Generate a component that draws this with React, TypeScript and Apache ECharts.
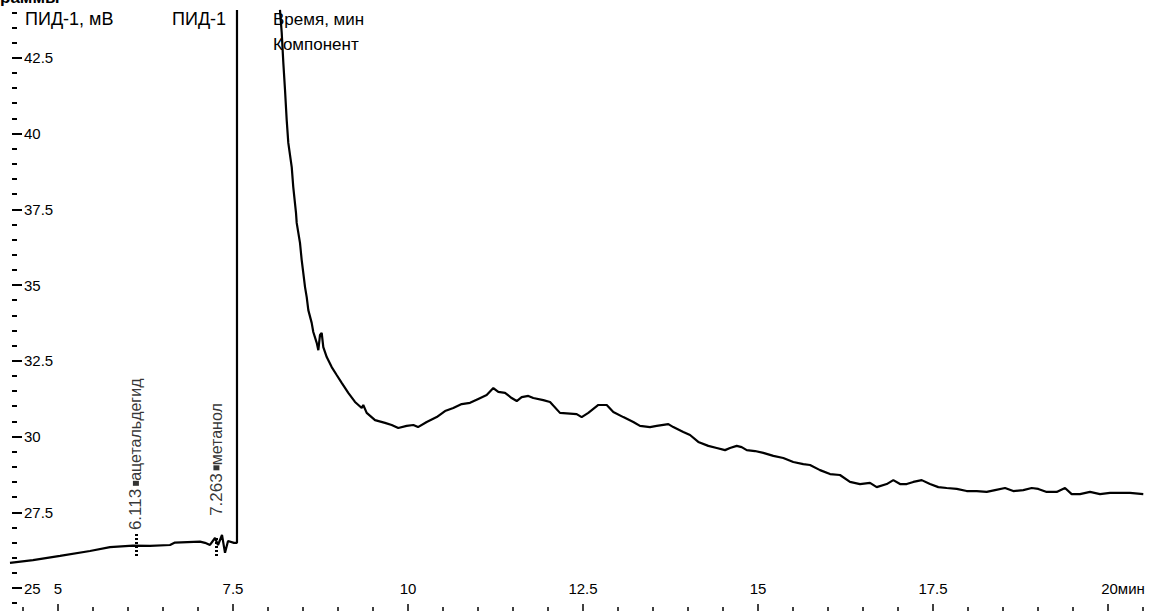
import React, { useEffect, useRef } from 'react';
import * as echarts from 'echarts';

// Chromatogram trace (time, min / signal, mV). null = trace above visible range.
const times: number[] = [
  4.314, 4.643, 5.029, 5.457, 5.743, 6.071, 6.314, 6.6, 6.671, 7.029, 7.1, 7.171, 7.243, 7.286, 7.343, 7.386,
  7.429, 7.514, 7.557, 7.557, 7.9, 8.171, 8.196, 8.219, 8.243, 8.267, 8.29, 8.339, 8.361, 8.4, 8.41, 8.457,
  8.481, 8.504, 8.529, 8.553, 8.576, 8.624, 8.647, 8.696, 8.719, 8.743, 8.767, 8.79, 8.839, 8.91, 8.981, 9.053,
  9.147, 9.243, 9.339, 9.361, 9.41, 9.529, 9.671, 9.767, 9.861, 9.981, 10.076, 10.143, 10.267, 10.41, 10.529,
  10.647, 10.767, 10.886, 11.004, 11.124, 11.219, 11.29, 11.386, 11.481, 11.553, 11.624, 11.719, 11.79, 11.933,
  12.029, 12.171, 12.41, 12.481, 12.576, 12.719, 12.839, 12.933, 13.076, 13.219, 13.314, 13.457, 13.553, 13.719,
  13.79, 13.933, 14.029, 14.147, 14.29, 14.41, 14.529, 14.6, 14.696, 14.767, 14.839, 14.957, 15.076, 15.219,
  15.361, 15.504, 15.647, 15.743, 15.886, 16.029, 16.171, 16.314, 16.457, 16.6, 16.696, 16.839, 16.933, 17.029,
  17.124, 17.219, 17.339, 17.457, 17.576, 17.696, 17.839, 17.981, 18.124, 18.267, 18.386, 18.529, 18.647, 18.79,
  18.91, 19.004, 19.124, 19.267, 19.386, 19.481, 19.6, 19.743, 19.886, 20.029, 20.171, 20.314, 20.504,
];
const signal: (number | null)[] = [
  25.83, 25.92, 26.06, 26.22, 26.35, 26.4, 26.39, 26.42, 26.5, 26.53, 26.49, 26.42, 26.65, 26.42, 26.75, 26.16,
  26.55, 26.49, 26.49, 44.08, null, 44.08, 43.32, 42.33, 41.44, 40.45, 39.69, 38.89, 38.23, 37.38, 37.05, 36.39,
  35.83, 35.4, 34.93, 34.6, 34.17, 33.75, 33.45, 33.09, 32.85, 33.35, 33.42, 32.95, 32.62, 32.29, 32.03, 31.77,
  31.44, 31.14, 30.94, 31.04, 30.78, 30.54, 30.45, 30.38, 30.28, 30.35, 30.38, 30.31, 30.48, 30.64, 30.84,
  30.94, 31.07, 31.11, 31.24, 31.37, 31.6, 31.47, 31.44, 31.27, 31.17, 31.3, 31.34, 31.27, 31.2,
  31.14, 30.78, 30.74, 30.64, 30.78, 31.04, 31.04, 30.81, 30.64, 30.48, 30.35, 30.31, 30.35, 30.41,
  30.31, 30.15, 30.05, 29.82, 29.69, 29.62, 29.55, 29.62, 29.69, 29.65, 29.55, 29.52, 29.46, 29.36,
  29.29, 29.16, 29.09, 29.06, 28.89, 28.76, 28.73, 28.5, 28.43, 28.47, 28.33, 28.43, 28.56, 28.43,
  28.43, 28.5, 28.56, 28.43, 28.33, 28.3, 28.27, 28.2, 28.2, 28.17, 28.23, 28.3, 28.2, 28.23,
  28.3, 28.27, 28.17, 28.17, 28.3, 28.1, 28.1, 28.17, 28.1, 28.14, 28.14, 28.14, 28.1,
];

// Identified peaks
const peakTimes: number[] = [6.113, 7.263];
const peakNames: string[] = ['ацетальдегид', 'метанол'];
const peakLabelBase: number[] = [27.01, 27.48];
const peakMarkLow: number[] = [26.06, 26.06];
const peakMarkHigh: number[] = [26.78, 26.72];

// Axis settings
const xMin = 2.5;
const xMax = 22.5;
const xStep = 2.5;
const yMin = 22.5;
const yMax = 45;
const yStep = 2.5;
const xUnit = 'мин';

const headerTexts: string[] = ['ПИД-1, мВ', 'ПИД-1', 'Время, мин', 'Компонент'];
const titleText = 'раммы';

const FONT = "'Liberation Sans', Arial, sans-serif";

export default function App() {
  const ref = useRef<HTMLDivElement>(null);

  useEffect(() => {
    document.body.style.margin = '0';
    document.body.style.overflow = 'hidden';
    if (!ref.current) return;
    const chart = echarts.init(ref.current, null, { renderer: 'svg' });

    const lineData = times.map((t, i) => [t, signal[i] === null ? '-' : signal[i]]);

    const option: any = {
      animation: false,
      backgroundColor: '#fff',
      grid: { left: -117, right: -134, top: -18, bottom: -52.75, outerBoundsMode: 'none' },
      xAxis: {
        type: 'value',
        min: xMin,
        max: xMax,
        interval: xStep,
        position: 'bottom',
        offset: -52.75,
        axisLine: { show: false },
        splitLine: { show: false },
        axisTick: { show: true, inside: true, length: 7, lineStyle: { color: '#000', width: 1.5 } },
        minorTick: { show: true, splitNumber: 5, length: 4, lineStyle: { color: '#000', width: 1.5 } },
        axisLabel: {
          inside: true,
          margin: 15,
          color: '#000',
          fontFamily: FONT,
          fontSize: 15,
          formatter: (v: number) => (v === 20 ? `{u|${v}${xUnit}}` : String(v)),
          rich: { u: { padding: [0, 0, 0, 30], fontFamily: FONT, fontSize: 15, color: '#000' } },
        },
      },
      yAxis: {
        type: 'value',
        min: yMin,
        max: yMax,
        interval: yStep,
        position: 'left',
        offset: -129,
        axisLine: { show: false },
        splitLine: { show: false },
        axisTick: { show: true, inside: true, length: 10, lineStyle: { color: '#000', width: 2 } },
        minorTick: { show: true, splitNumber: 5, length: 5, lineStyle: { color: '#000', width: 2 } },
        axisLabel: { inside: true, margin: 12, color: '#000', fontFamily: FONT, fontSize: 15 },
      },
      graphic: [
        { type: 'text', left: 0, top: -11, style: { text: titleText, font: `bold 17px ${FONT}`, fill: '#000' } },
        { type: 'text', left: 25, top: 10, style: { text: headerTexts[0], font: `18px ${FONT}`, fill: '#000' } },
        { type: 'text', left: 172, top: 10, style: { text: headerTexts[1], font: `18px ${FONT}`, fill: '#000' } },
        { type: 'text', left: 273, top: 11, style: { text: headerTexts[2], font: `17px ${FONT}`, fill: '#000' } },
        { type: 'text', left: 273, top: 36, style: { text: headerTexts[3], font: `17px ${FONT}`, fill: '#000' } },
      ],
      series: [
        {
          type: 'line',
          data: lineData,
          showSymbol: false,
          connectNulls: false,
          clip: true,
          lineStyle: { color: '#000', width: 2.2 },
          silent: true,
        },
        {
          type: 'scatter',
          data: peakTimes.map((t, i) => [t, peakLabelBase[i], peakNames[i]]),
          symbolSize: 1,
          itemStyle: { color: 'rgba(0,0,0,0)' },
          silent: true,
          label: {
            show: true,
            position: 'inside',
            rotate: 90,
            align: 'left',
            verticalAlign: 'middle',
            offset: [-3, 0],
            color: '#000',
            fontFamily: FONT,
            fontSize: 16,
            formatter: (p: any) => `{n|${p.value[0].toFixed(3)}}{s| }{b| }{t|${p.value[2]}}`,
            rich: {
              n: { fontFamily: FONT, fontSize: 17, color: '#000' },
              s: { width: 3, fontSize: 6 },
              b: { backgroundColor: '#000', width: 5, height: 6, fontSize: 6 },
              t: { fontFamily: FONT, fontSize: 16, color: '#000' },
            },
          },
          markLine: {
            silent: true,
            symbol: ['none', 'none'],
            label: { show: false },
            lineStyle: { color: '#000', type: [2, 2], width: 3 },
            data: peakTimes.map((t, i) => [{ coord: [t, peakMarkLow[i]] }, { coord: [t, peakMarkHigh[i]] }]),
          },
        },
      ],
    };

    chart.setOption(option);
    return () => chart.dispose();
  }, []);

  return <div ref={ref} style={{ width: 1149, height: 611 }} />;
}
